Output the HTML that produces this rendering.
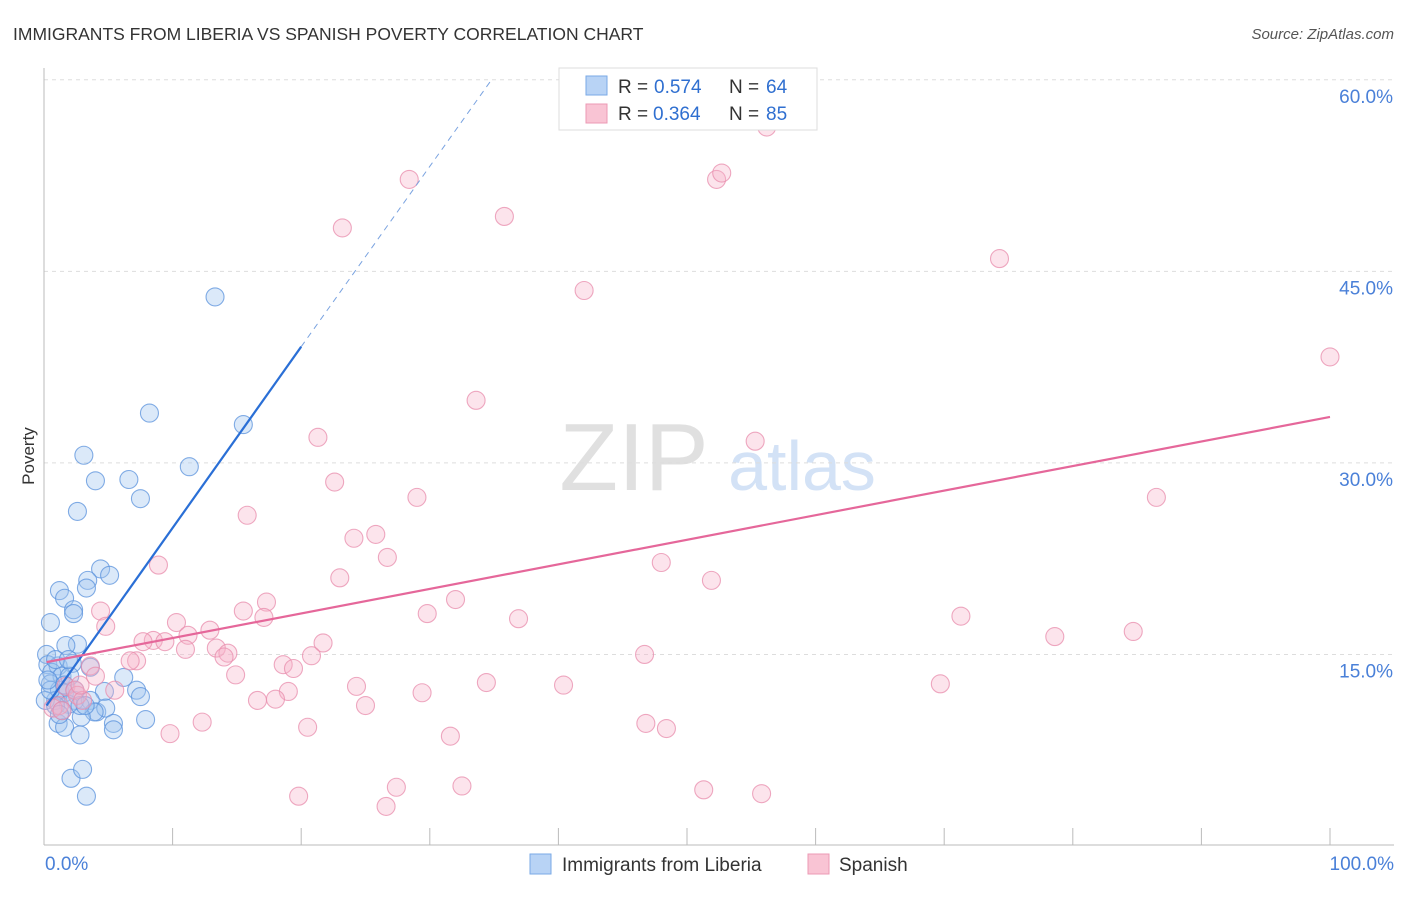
<!DOCTYPE html>
<html><head><meta charset="utf-8"><style>
body{margin:0;background:#fff;font-family:"Liberation Sans",sans-serif}
svg text{font-family:"Liberation Sans",sans-serif}
</style></head><body>
<svg id="c" width="1406" height="892">
<text x="13" y="40" font-size="17.5" fill="#333">IMMIGRANTS FROM LIBERIA VS SPANISH POVERTY CORRELATION CHART</text>
<text x="1394" y="39" font-size="15" fill="#555" text-anchor="end" font-style="italic">Source: ZipAtlas.com</text>
<text x="34" y="456" font-size="17" fill="#333" transform="rotate(-90 34 456)" text-anchor="middle">Poverty</text>
<text x="634" y="490" font-size="96" fill="#e0e0e0" font-family="Liberation Serif" text-anchor="middle">ZIP</text>
<text x="802" y="490" font-size="70" fill="#d3e2f6" text-anchor="middle">atlas</text>
<g id="grid"></g><g id="axes"></g><g id="pts"></g><g id="lines"></g>
<g>
<rect x="559" y="68" width="258" height="62" fill="#fff" stroke="#ddd"/>
<rect x="586" y="76" width="21" height="19" fill="#b8d3f5" stroke="#7aaae6"/>
<rect x="586" y="104" width="21" height="19" fill="#f9c4d4" stroke="#ec9ab4"/>
<text x="618" y="93" font-size="19" fill="#333">R =</text>
<text x="654" y="93" font-size="19" fill="#2f6fd0">0.574</text>
<text x="729" y="93" font-size="19" fill="#333">N =</text>
<text x="766" y="93" font-size="19" fill="#2f6fd0">64</text>
<text x="618" y="120" font-size="19" fill="#333">R =</text>
<text x="653" y="120" font-size="19" fill="#2f6fd0">0.364</text>
<text x="729" y="120" font-size="19" fill="#333">N =</text>
<text x="766" y="120" font-size="19" fill="#2f6fd0">85</text>
</g>
<g>
<rect x="530" y="854" width="21" height="20" fill="#b8d3f5" stroke="#7aaae6"/>
<text x="562" y="871" font-size="19" fill="#333">Immigrants from Liberia</text>
<rect x="808" y="854" width="21" height="20" fill="#f9c4d4" stroke="#ec9ab4"/>
<text x="839" y="871" font-size="19" fill="#333">Spanish</text>
</g>
</svg>
<script>
const yTicks=[15,30,45,60];
const yTickLabels=["15.0%","30.0%","45.0%","60.0%"];
const xTickLabels=["0.0%","100.0%"];
const blueX=[13.3,8.2,15.5,11.3,3.1,4.0,6.6,7.5,2.6,4.4,5.1,3.4,3.3,1.2,1.6,2.3,2.3,0.5,2.6,1.7,0.2,0.3,1.1,2.2,3.6,0.6,1.4,2.0,0.5,1.2,1.6,4.7,6.2,7.2,7.5,0.9,2.4,1.9,3.6,4.1,4.8,3.9,2.9,1.1,1.6,5.4,5.4,7.9,2.8,2.1,3.0,3.3,0.1,0.9,1.4,0.5,0.9,1.9,0.3,1.6,2.4,2.8,3.2,1.2];
const blueY=[43.0,33.9,33.0,29.7,30.6,28.6,28.7,27.2,26.2,21.7,21.2,20.8,20.2,20.0,19.4,18.5,18.2,17.5,15.8,15.7,15.0,14.2,14.1,14.3,14.0,13.6,13.3,13.3,12.7,12.2,12.0,12.1,13.2,12.2,11.7,11.4,11.4,11.1,11.4,10.5,10.8,10.5,10.1,9.6,9.3,9.6,9.1,9.9,8.7,5.3,6.0,3.9,11.4,11.0,10.6,12.2,14.6,14.6,13.0,12.6,12.2,11.0,11.0,10.3];
const pinkX=[56.2,28.4,52.3,52.7,35.8,23.2,74.3,42.0,100.0,33.6,21.3,55.3,22.6,29.0,86.5,15.8,25.8,24.1,26.7,8.9,48.0,23.0,51.9,32.0,17.3,15.5,4.4,29.8,36.9,17.1,71.3,10.3,4.8,12.9,84.7,8.5,7.7,9.4,11.2,21.7,78.6,11.0,13.4,14.3,46.7,14.0,20.8,7.2,6.7,18.6,19.4,3.6,4.0,14.9,34.4,40.4,69.7,24.3,19.0,5.5,16.6,18.0,29.4,25.0,1.7,2.4,2.6,3.0,1.2,0.7,1.4,12.3,46.8,48.4,20.5,9.8,31.6,27.4,32.5,19.8,51.3,55.8,26.6,2.8];
const pinkY=[56.3,52.2,52.2,52.7,49.3,48.4,46.0,43.5,38.3,34.9,32.0,31.7,28.5,27.3,27.3,25.9,24.4,24.1,22.6,22.0,22.2,21.0,20.8,19.3,19.1,18.4,18.4,18.2,17.8,17.9,18.0,17.5,17.2,16.9,16.8,16.1,16.0,16.0,16.5,15.9,16.4,15.4,15.5,15.1,15.0,14.8,14.9,14.5,14.5,14.2,13.9,14.1,13.3,13.4,12.8,12.6,12.7,12.5,12.1,12.2,11.4,11.5,12.0,11.0,12.5,12.2,11.8,11.4,11.0,10.8,10.6,9.7,9.6,9.2,9.3,8.8,8.6,4.6,4.7,3.9,4.4,4.1,3.1,12.6];
const blueTrend=[[0.2,11.0],[20,39.1],[34.8,60]];
const pinkTrend=[[0.2,14.4],[100,33.6]];
const X=v=>44+v*12.86, Y=v=>846-v*12.77;
const NS="http://www.w3.org/2000/svg";
function mk(t,a,p){const e=document.createElementNS(NS,t);for(const k in a)e.setAttribute(k,a[k]);document.getElementById(p).appendChild(e);return e;}
yTicks.forEach((t,i)=>{
 const g=mk('line',{x1:44,x2:1394,y1:Y(t),y2:Y(t),stroke:'#ddd','stroke-dasharray':'4,4'},'grid');
 
 
 const l=mk('text',{x:1393,y:Y(t)+23,'font-size':19,fill:'#4a80d8','text-anchor':'end'},'grid');
 l.textContent=yTickLabels[i];
 
 
});
const ax=mk('line',{x1:44,x2:44,y1:68,y2:845,stroke:'#bbb'},'axes');


const bx=mk('line',{x1:44,x2:1394,y1:845,y2:845,stroke:'#bbb'},'axes');


for(let i=0;i<=10;i++){const t=mk('line',{x1:X(i*10),x2:X(i*10),y1:828,y2:845,stroke:'#bbb'},'axes');
 
 }
[[0,'start',45],[100,'end',1394]].forEach((d,i)=>{const t=mk('text',{x:d[2],y:870,'font-size':19,fill:'#4a80d8','text-anchor':d[1]},'axes');t.textContent=xTickLabels[i];
 
 });
blueX.forEach((x,i)=>{const c=mk('circle',{cx:X(x),cy:Y(blueY[i]),r:9,fill:'rgba(160,196,240,0.38)',stroke:'rgba(90,145,220,0.75)','stroke-width':1.1},'pts');
 
 });
pinkX.forEach((x,i)=>{const c=mk('circle',{cx:X(x),cy:Y(pinkY[i]),r:9,fill:'rgba(246,178,200,0.35)',stroke:'rgba(232,140,172,0.75)','stroke-width':1.1},'pts');
 
 });
const b1=mk('line',{x1:X(blueTrend[0][0]),y1:Y(blueTrend[0][1]),x2:X(blueTrend[1][0]),y2:Y(blueTrend[1][1]),stroke:'#2a6fd6','stroke-width':2.2},'lines');


const b2=mk('line',{x1:X(blueTrend[1][0]),y1:Y(blueTrend[1][1]),x2:X(blueTrend[2][0]),y2:Y(blueTrend[2][1]),stroke:'#7aa3e0','stroke-width':1,'stroke-dasharray':'6,5'},'lines');


const p1=mk('line',{x1:X(pinkTrend[0][0]),y1:Y(pinkTrend[0][1]),x2:X(pinkTrend[1][0]),y2:Y(pinkTrend[1][1]),stroke:'#e5679a','stroke-width':2.2},'lines');


</script>
</body></html>
